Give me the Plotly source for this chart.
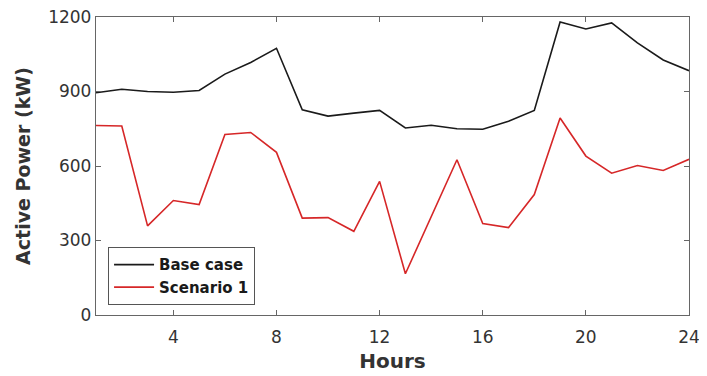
import plotly.graph_objects as go

hours = list(range(1, 25))
base_case = [895, 909, 900, 897, 904, 970, 1017, 1074, 826, 801, 813, 824,
             753, 764, 750, 748, 780, 824, 1180, 1152, 1176, 1096, 1027, 984]
scenario_1 = [763, 761, 359, 461, 445, 727, 735, 655, 390, 392, 337, 538,
              166, 395, 625, 368, 352, 485, 793, 640, 571, 602, 582, 627]
x_ticks = [4, 8, 12, 16, 20, 24]
y_ticks = [0, 300, 600, 900, 1200]

FONT = "DejaVu Sans"

fig = go.Figure()
fig.add_trace(go.Scatter(x=hours, y=base_case, mode="lines", name="<b>Base case</b>",
                         line=dict(color="#1a1a1a", width=1.6)))
fig.add_trace(go.Scatter(x=hours, y=scenario_1, mode="lines", name="<b>Scenario 1</b>",
                         line=dict(color="#d62728", width=1.6)))

axis_common = dict(showline=True, linecolor="#666666", linewidth=1.3, mirror="ticks",
                   ticks="inside", ticklen=5, tickcolor="#666666", tickwidth=1.2,
                   showgrid=False, zeroline=False, automargin=False,
                   ticklabeloverflow="allow",
                   tickfont=dict(family=FONT, size=17, color="#333333"))

fig.update_xaxes(range=[1, 24], tickvals=x_ticks, ticklabelstandoff=6,
                 title=dict(text="<b>Hours</b>", font=dict(family=FONT, size=20, color="#333333"), standoff=8),
                 **axis_common)
fig.update_yaxes(range=[0, 1200], tickvals=y_ticks,
                 title=dict(text="<b>Active Power (kW)</b>", font=dict(family=FONT, size=19, color="#333333"), standoff=12),
                 **axis_common)

fig.update_layout(
    width=707, height=376,
    margin=dict(l=88, r=26, t=9, b=69, autoexpand=False),
    plot_bgcolor="white", paper_bgcolor="white",
    legend=dict(x=0.02, y=0.033, xanchor="left", yanchor="bottom",
                bgcolor="white", bordercolor="#555555", borderwidth=1.2,
                font=dict(family=FONT, size=15, color="#1a1a1a"),
                tracegroupgap=0, itemwidth=40),
)

fig.write_html("out.html")
